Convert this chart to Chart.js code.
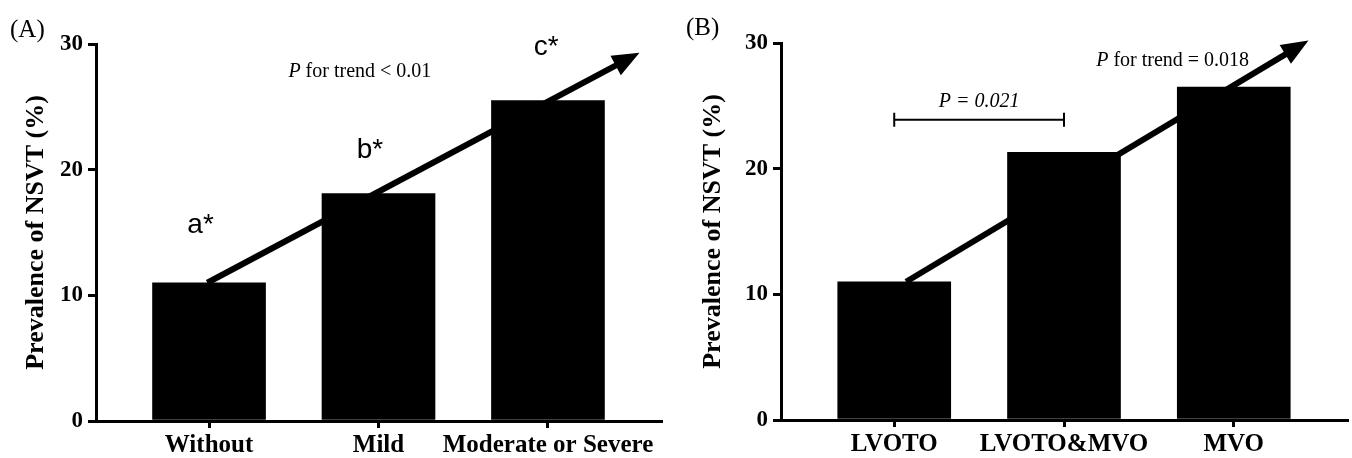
<!DOCTYPE html>
<html>
<head>
<meta charset="utf-8">
<script src="https://cdn.jsdelivr.net/npm/chart.js@4.4.0/dist/chart.umd.min.js"></script>
<style>
  html, body { margin: 0; padding: 0; background: #fff; }
  #wrap { position: relative; width: 1352px; height: 458px; }
  canvas { position: absolute; top: 0; }
</style>
</head>
<body>
<div id="wrap">
  <canvas id="cA" width="676" height="458" style="left:0px"></canvas>
  <canvas id="cB" width="676" height="458" style="left:676px"></canvas>
</div>
<script>
// ---- Data ----
const catsA = ['Without', 'Mild', 'Moderate or Severe'];
const valsA = [11.0, 18.1, 25.5];
const catsB = ['LVOTO', 'LVOTO&MVO', 'MVO'];
const valsB = [11.0, 21.3, 26.5];
const yTicks = [0, 10, 20, 30];
const yTitle = 'Prevalence of NSVT (%)';

// ---- Annotations (data units) ----
const lettersA = ['a*', 'b*', 'c*'];
const letterPosA = [[-0.05, 15.0], [0.95, 20.9], [1.99, 29.1]];
const arrowA = [[-0.01, 11.0], [2.54, 29.3]];
const arrowB = [[0.07, 11.0], [2.44, 30.2]];
const trendA = { pre: 'P', post: ' for trend < 0.01', at: [0.89, 27.4] };
const trendB = { pre: 'P', post: ' for trend = 0.018', at: [1.64, 28.2] };
const bracketB = { from: 0, to: 1, y: 23.9, text: 'P = 0.021', textY: 24.9 };

const SERIF = '"Liberation Serif", "Times New Roman", serif';
const SANS = '"Liberation Sans", Arial, sans-serif';

function drawArrow(ctx, x1, y1, x2, y2) {
  const ang = Math.atan2(y2 - y1, x2 - x1);
  const headLen = 27, headHalf = 11;
  const bx = x2 - headLen * Math.cos(ang), by = y2 - headLen * Math.sin(ang);
  ctx.save();
  ctx.strokeStyle = '#000';
  ctx.fillStyle = '#000';
  ctx.lineWidth = 6;
  ctx.lineCap = 'butt';
  ctx.beginPath();
  ctx.moveTo(x1, y1);
  ctx.lineTo(bx + 2 * Math.cos(ang), by + 2 * Math.sin(ang));
  ctx.stroke();
  ctx.beginPath();
  ctx.moveTo(x2, y2);
  ctx.lineTo(bx + headHalf * Math.sin(ang), by - headHalf * Math.cos(ang));
  ctx.lineTo(bx - headHalf * Math.sin(ang), by + headHalf * Math.cos(ang));
  ctx.closePath();
  ctx.fill();
  ctx.restore();
}

function drawTrend(ctx, xs, ys, t) {
  const cx = xs.getPixelForValue(t.at[0]);
  const cy = ys.getPixelForValue(t.at[1]);
  ctx.save();
  ctx.fillStyle = '#000';
  ctx.textBaseline = 'alphabetic';
  ctx.font = 'italic 20px ' + SERIF;
  const w1 = ctx.measureText(t.pre).width;
  ctx.font = '20px ' + SERIF;
  const w2 = ctx.measureText(t.post).width;
  const sx = cx - (w1 + w2) / 2;
  ctx.font = 'italic 20px ' + SERIF;
  ctx.fillText(t.pre, sx, cy);
  ctx.font = '20px ' + SERIF;
  ctx.fillText(t.post, sx + w1, cy);
  ctx.restore();
}

function makeChart(id, cats, vals, opt) {
  const annot = {
    id: 'annot_' + id,
    afterDraw(chart) {
      const ctx = chart.ctx;
      const xs = chart.scales.x, ys = chart.scales.y;
      // panel label
      ctx.save();
      ctx.fillStyle = '#000';
      ctx.font = '25px ' + SERIF;
      ctx.textBaseline = 'alphabetic';
      ctx.fillText(opt.panel, opt.panelX, opt.panelY);
      ctx.restore();
      // arrow
      drawArrow(ctx,
        xs.getPixelForValue(opt.arrow[0][0]), ys.getPixelForValue(opt.arrow[0][1]),
        xs.getPixelForValue(opt.arrow[1][0]), ys.getPixelForValue(opt.arrow[1][1]));
      // trend text
      drawTrend(ctx, xs, ys, opt.trend);
      // letters
      if (opt.letters) {
        ctx.save();
        ctx.fillStyle = '#000';
        ctx.font = '28px ' + SANS;
        ctx.textAlign = 'center';
        ctx.textBaseline = 'alphabetic';
        opt.letters.forEach((l, i) => {
          ctx.fillText(l, xs.getPixelForValue(opt.letterPos[i][0]), ys.getPixelForValue(opt.letterPos[i][1]));
        });
        ctx.restore();
      }
      // bracket
      if (opt.bracket) {
        const b = opt.bracket;
        const x1 = xs.getPixelForValue(b.from), x2 = xs.getPixelForValue(b.to);
        const y = ys.getPixelForValue(b.y);
        ctx.save();
        ctx.strokeStyle = '#000';
        ctx.lineWidth = 2;
        ctx.beginPath();
        ctx.moveTo(x1, y); ctx.lineTo(x2, y);
        ctx.moveTo(x1, y - 7); ctx.lineTo(x1, y + 7);
        ctx.moveTo(x2, y - 7); ctx.lineTo(x2, y + 7);
        ctx.stroke();
        ctx.fillStyle = '#000';
        ctx.font = 'italic 20px ' + SERIF;
        ctx.textAlign = 'center';
        ctx.fillText(b.text, (x1 + x2) / 2, ys.getPixelForValue(b.textY));
        ctx.restore();
      }
    }
  };

  return new Chart(document.getElementById(id), {
    type: 'bar',
    data: {
      datasets: [{
        data: vals.map((v, i) => ({ x: i, y: v })),
        backgroundColor: '#000',
        borderWidth: 0,
        barThickness: 113
      }]
    },
    options: {
      responsive: false,
      animation: false,
      devicePixelRatio: 1,
      layout: { padding: { top: opt.top, right: opt.right, left: 0, bottom: 0 } },
      plugins: { legend: { display: false }, tooltip: { enabled: false } },
      scales: {
        x: {
          type: 'linear',
          min: -0.667,
          max: 2.667,
          offset: false,
          afterBuildTicks: (s) => { s.ticks = cats.map((c, i) => ({ value: i })); },
          afterFit: (s) => { s.height = opt.xHeight; },
          ticks: {
            autoSkip: false,
            maxRotation: 0,
            color: '#000',
            padding: 3,
            font: { family: SERIF, size: 25, weight: 'bold' },
            callback: (v) => cats[v]
          },
          grid: { display: true, offset: false, drawOnChartArea: false, drawTicks: true, tickLength: 7, lineWidth: 3, color: '#000' },
          border: { display: true, width: 3, color: '#000' }
        },
        y: {
          min: 0,
          max: 30,
          afterBuildTicks: (s) => { s.ticks = yTicks.map(v => ({ value: v })); },
          afterFit: (s) => { s.width = opt.yWidth; },
          ticks: {
            color: '#000',
            padding: 5,
            font: { family: SERIF, size: 23, weight: 'bold' }
          },
          grid: { display: true, offset: false, drawOnChartArea: false, drawTicks: true, tickLength: 8, lineWidth: 3, color: '#000' },
          border: { display: true, width: 3, color: '#000' },
          title: {
            display: true,
            text: yTitle,
            color: '#000',
            font: { family: SERIF, size: 26, weight: 'bold' },
            padding: { top: opt.titlePad, bottom: 0 }
          }
        }
      }
    },
    plugins: [annot]
  });
}

makeChart('cA', catsA, valsA, {
  top: 44, right: 15, xHeight: 37, yWidth: 96, titlePad: 21,
  panel: '(A)', panelX: 10, panelY: 37,
  arrow: arrowA, trend: trendA, letters: lettersA, letterPos: letterPosA
});
makeChart('cB', catsB, valsB, {
  top: 43, right: 5, xHeight: 38, yWidth: 105, titlePad: 22,
  panel: '(B)', panelX: 10, panelY: 35,
  arrow: arrowB, trend: trendB, bracket: bracketB
});
</script>
</body>
</html>
